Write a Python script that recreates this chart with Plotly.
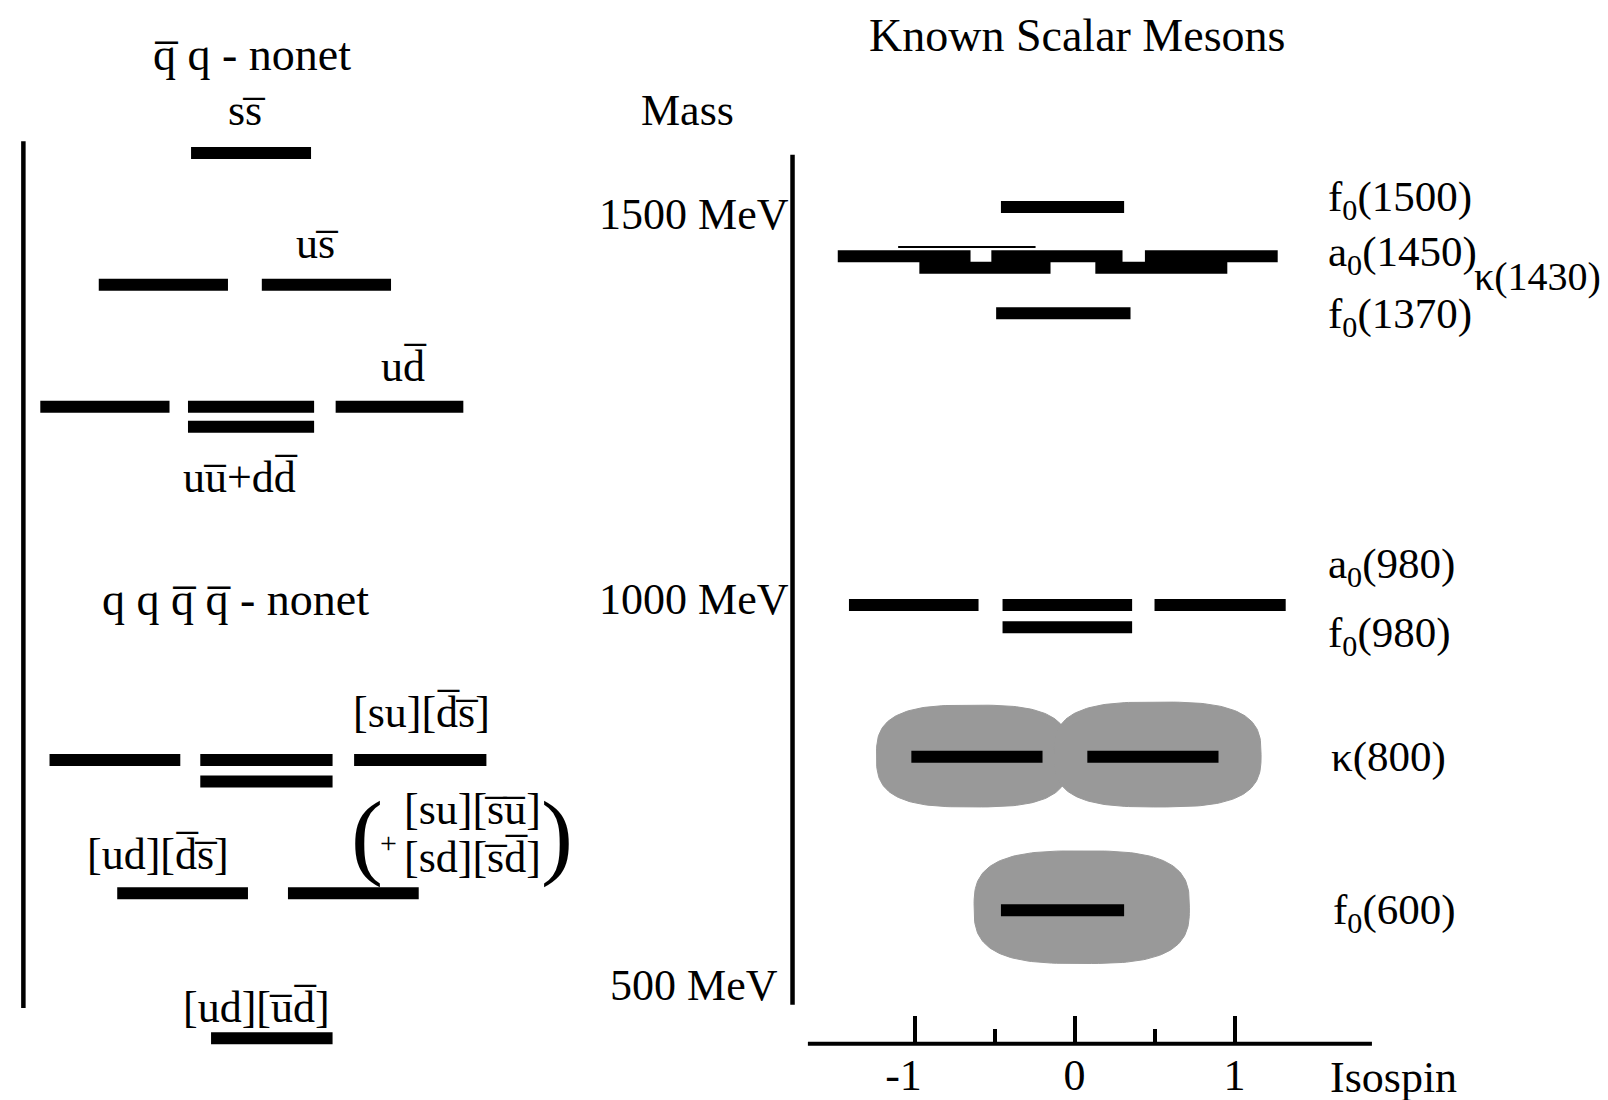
import numpy as np
import plotly.graph_objects as go

# ---------------- data ----------------
# Right panel: known scalar mesons (isospin-3 extent of each level, mass in MeV)
meson_mass = [1508, 1444, 1429, 1370, 992, 963, 795, 596]
meson_segments = [
    [(-0.46, 0.31)],                                   # f0(1500)
    [(-1.48, -0.65), (-0.52, 0.30), (0.44, 1.27)],     # a0(1450)
    [(-0.97, -0.15), (0.13, 0.955)],                   # kappa(1430)
    [(-0.49, 0.35)],                                   # f0(1370)
    [(-1.41, -0.60), (-0.45, 0.36), (0.50, 1.32)],     # a0(980)
    [(-0.45, 0.36)],                                   # f0(980)
    [(-1.02, -0.20), (0.08, 0.90)],                    # kappa(800)
    [(-0.46, 0.31)],                                   # f0(600)
]
meson_labels = ["f<sub>0</sub>(1500)", "a<sub>0</sub>(1450)", "κ(1430)", "f<sub>0</sub>(1370)",
                "a<sub>0</sub>(980)", "f<sub>0</sub>(980)", "κ(800)", "f<sub>0</sub>(600)"]

# broad states (grey clouds): centre isospin, centre mass, half width, half height
blob_iso = [-0.635, 0.519, 0.045]
blob_mass = [796, 798, 600]
blob_half_w = [0.603, 0.647, 0.673]
blob_half_h = [66, 68, 73]

# Left panel: schematic q-qbar and tetraquark nonets (I3-like position, level)
nonet_levels = [1578, 1407, 1249, 1223, 791, 763, 618, 430]
nonet_segments = [
    [(-0.39, 0.39)],                                   # s sbar
    [(-0.99, -0.15), (0.07, 0.91)],                    # u sbar
    [(-1.37, -0.53), (-0.41, 0.41), (0.55, 1.38)],     # u dbar
    [(-0.41, 0.41)],                                   # u ubar + d dbar
    [(-1.31, -0.46), (-0.33, 0.53), (0.67, 1.53)],     # [su][dbar sbar]
    [(-0.33, 0.53)],                                   # hidden strangeness
    [(-0.87, -0.02), (0.24, 1.09)],                    # [ud][dbar sbar]
    [(-0.26, 0.53)],                                   # [ud][ubar dbar]
]

mass_ticks = [500, 1000, 1500]
mass_ticktext = ["500 MeV\u2005", "1000 MeV", "1500 MeV"]
iso_ticks = [-1, 0, 1]
iso_ticktext = ["-1\u2002", "0", "1"]
iso_minor = [-0.5, 0.5]

# ---------------- geometry ----------------
W, H = 1608, 1100
PW, PH = 1568.0, 1072.6       # reference drawing units
ISO0, ISOU = 1040.0, 156.0     # isospin 0 position and unit
M_PX = 0.752                   # px per MeV
LEFT0, LEFTU = 237.0, 150.0


def px_to_iso(px):
    return (px - ISO0) / ISOU


def py_to_mass(py):
    return 1500 - (py - 200) / M_PX


def P(px, py):
    return px / PW, 1 - py / PH


x_range = [px_to_iso(0), px_to_iso(PW)]
x2_range = [(0 - LEFT0) / LEFTU, (PW - LEFT0) / LEFTU]
y_range = [py_to_mass(PH), py_to_mass(0)]

FONT = "Liberation Serif"
FS = 44

fig = go.Figure()


def seg_xy(levels, segs):
    xs, ys = [], []
    for lv, ss in zip(levels, segs):
        for a, b in ss:
            xs += [a, b, None]
            ys += [lv, lv, None]
    return xs, ys


# grey clouds
t = np.linspace(0, 2 * np.pi, 180)
n = 3.0
for cx, cy, a, b in zip(blob_iso, blob_mass, blob_half_w, blob_half_h):
    c, s = np.cos(t), np.sin(t)
    bx = cx + a * np.sign(c) * np.abs(c) ** (2 / n)
    by = cy + b * np.sign(s) * np.abs(s) ** (2 / n)
    fig.add_trace(go.Scatter(x=bx, y=by, mode="lines", fill="toself",
                             fillcolor="#999999", line=dict(color="#999999", width=1),
                             hoverinfo="skip"))

# meson levels
xs, ys = seg_xy(meson_mass, meson_segments)
fig.add_trace(go.Scatter(x=xs, y=ys, mode="lines", line=dict(color="black", width=12),
                         hoverinfo="skip"))
# faint line above a0(1450)
fig.add_trace(go.Scatter(x=[px_to_iso(868), px_to_iso(1002)], y=[py_to_mass(233)] * 2,
                         mode="lines", line=dict(color="black", width=2), hoverinfo="skip"))

# nonet levels (left panel, own horizontal axis)
xs, ys = seg_xy(nonet_levels, nonet_segments)
fig.add_trace(go.Scatter(x=xs, y=ys, xaxis="x2", mode="lines",
                         line=dict(color="black", width=12), hoverinfo="skip"))

# left vertical line
fig.add_trace(go.Scatter(x=[(15 - LEFT0) / LEFTU] * 2, y=[py_to_mass(130), py_to_mass(975)],
                         xaxis="x2", mode="lines", line=dict(color="black", width=4.5),
                         hoverinfo="skip"))
# mass axis line
fig.add_trace(go.Scatter(x=[px_to_iso(765)] * 2, y=[py_to_mass(143), py_to_mass(972)],
                         mode="lines", line=dict(color="black", width=4.5), hoverinfo="skip"))
# isospin axis line
fig.add_trace(go.Scatter(x=[px_to_iso(780), px_to_iso(1330)], y=[py_to_mass(1010)] * 2,
                         mode="lines", line=dict(color="black", width=4), hoverinfo="skip"))

# ---------------- text ----------------
ann = []


def txt(s, px, py, size=FS, xanchor="center"):
    x, y = P(px, py)
    ann.append(dict(text=s, x=x, y=y, xref="paper", yref="paper", showarrow=False,
                    xanchor=xanchor, yanchor="middle",
                    font=dict(family=FONT, size=size, color="black")))


OL = "\u0305"
txt("q" + OL + " q - nonet", 238, 45, size=46)
txt("ss" + OL, 233, 100)
txt("us" + OL, 302, 230)
txt("ud" + OL, 386, 350)
txt("uu" + OL + "+dd" + OL, 227, 458)
txt("q q q" + OL + " q" + OL + " - nonet", 222, 577, size=46)
txt("[su][d" + OL + "s" + OL + "]", 403, 687)
txt("[ud][d" + OL + "s" + OL + "]", 146, 825)
txt("[su][s" + OL + "u" + OL + "]", 453, 782)
txt("[sd][s" + OL + "d" + OL + "]", 453, 828)
txt("(", 350, 806, size=96)
txt(")", 535, 806, size=96)
txt("+", 371, 814, size=30)
txt("[ud][u" + OL + "d" + OL + "]", 242, 975)

txt("Known Scalar Mesons", 1043, 27, size=46)
txt("Mass", 663, 100)
txt("Isospin", 1287, 1043, xanchor="left")

label_pos = [(1285, 187), (1285, 241), (1428, 262), (1285, 301),
             (1285, 545), (1285, 612), (1288, 730), (1290, 882)]
label_size = [43, 43, 40, 43, 43, 43, 43, 43]
for lab, (lx, ly), ls in zip(meson_labels, label_pos, label_size):
    txt(lab, lx, ly, size=ls, xanchor="left")

fig.update_layout(
    width=W, height=H, margin=dict(l=0, r=0, t=0, b=0),
    paper_bgcolor="white", plot_bgcolor="white", showlegend=False,
    annotations=ann,
    xaxis=dict(range=x_range, domain=[0, 1], anchor="free", position=1 - 1010 / PH,
               showgrid=False, zeroline=False, showline=False,
               tickvals=iso_ticks, ticktext=iso_ticktext, ticks="inside",
               ticklen=28, tickwidth=4, tickcolor="black", ticklabelstandoff=1,
               tickfont=dict(family=FONT, size=FS, color="black"),
               minor=dict(tickvals=iso_minor, ticks="inside", ticklen=15,
                          tickwidth=4, tickcolor="black")),
    xaxis2=dict(range=x2_range, overlaying="x", visible=False),
    yaxis=dict(range=y_range, domain=[0, 1], anchor="free", position=765 / PW,
               showgrid=False, zeroline=False, showline=False, ticks="",
               tickvals=mass_ticks, ticktext=mass_ticktext, ticklabelstandoff=4,
               tickfont=dict(family=FONT, size=FS, color="black")),
)

fig.write_html("out.html")
